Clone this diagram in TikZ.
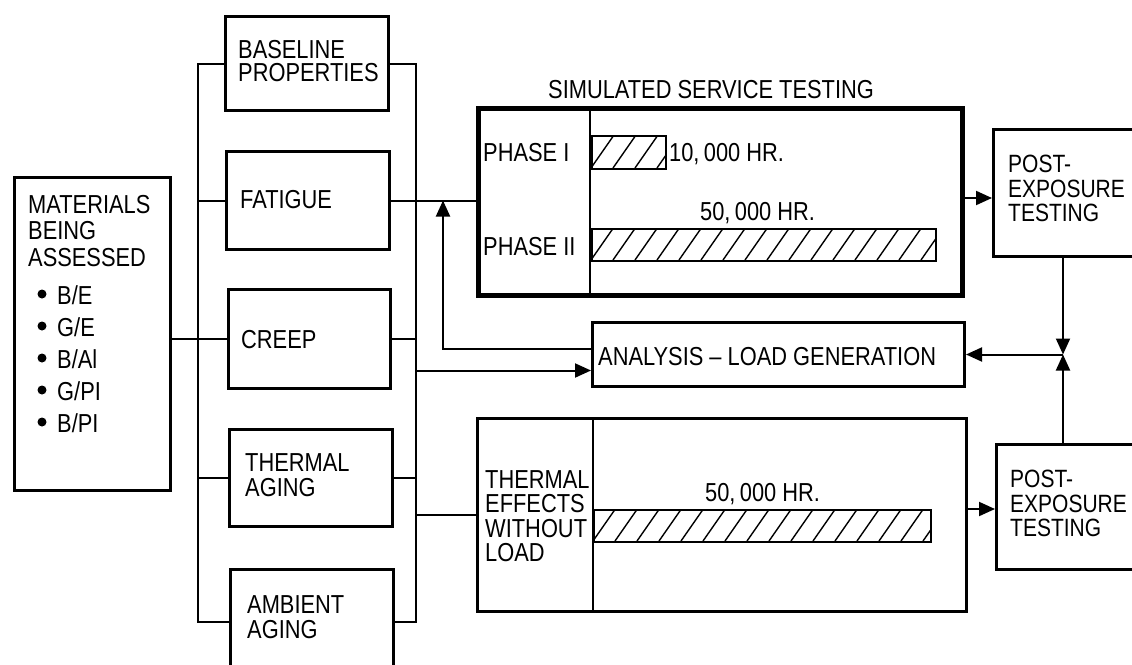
\documentclass[tikz,border=0pt]{standalone}
\usepackage{fontspec}
\setmainfont[FakeStretch=0.84]{Liberation Sans}
\usetikzlibrary{arrows.meta}
\newcommand\myhatch[4]{%
  \begin{scope}
    \clip (#1,#2) rectangle (#3,#4);
    \foreach \i in {-2,...,17}{\draw[line width=1.4pt] ({#1+\i*22},#4) -- ++(23,-33);}
  \end{scope}}
\begin{document}
\begin{tikzpicture}[x=1pt,y=-1pt,
  box/.style={draw, line width=3pt, inner sep=0pt, anchor=north west},
  lbl/.style={anchor=north west, inner sep=0pt, align=left, font=\fontsize{26}{23.5}\selectfont},
  conn/.style={line width=2pt},
  tip/.style={-{Triangle[length=16pt,width=14pt]}},
  dot/.style={fill=black},
]
\path[use as bounding box, fill=white] (0,0) rectangle (1132,664);
\clip (0,0) rectangle (1132,664);

% boxes
\node[box, minimum width=163, minimum height=94] (base) at (224,15) {};
\node[box, minimum width=163, minimum height=98] (fat) at (225,150) {};
\node[box, minimum width=162, minimum height=99] (creep) at (227,288) {};
\node[box, minimum width=163, minimum height=97] (tage) at (228,428) {};
\node[box, minimum width=163, minimum height=104] (amb) at (229,568) {};
\node[box, minimum width=156, minimum height=313] (mat) at (13,176) {};
\node[box, line width=5pt, minimum width=484, minimum height=187] (sim) at (476,106) {};
\node[box, minimum width=372, minimum height=64] (ana) at (591,321) {};
\node[box, minimum width=489, minimum height=193] (teff) at (476,417) {};
\node[box, minimum width=170, minimum height=127] (post1) at (992,128) {};
\node[box, minimum width=170, minimum height=125] (post2) at (995,443) {};

% dividers
\coordinate (sdiv) at (590,0);
\coordinate (tdiv) at (593,0);
\draw[conn] (sim.north -| sdiv) -- (sim.south -| sdiv);
\draw[conn] (teff.north -| tdiv) -- (teff.south -| tdiv);

% bars
\node[box, line width=2pt, minimum width=74, minimum height=33] (bar1) at (591,135) {};
\node[box, line width=2pt, minimum width=344, minimum height=32] (bar2) at (591,228) {};
\node[box, line width=2pt, minimum width=337, minimum height=32] (bar3) at (593,509) {};
\myhatch{591}{135}{665}{168}
\myhatch{591}{228}{935}{260}
\myhatch{593}{509}{930}{541}

% texts
\node[lbl] (tbase) at (238,40) {BASELINE\\PROPERTIES};
\node[lbl] (tfat) at (240,190) {FATIGUE};
\node[lbl] (tcreep) at (241,330) {CREEP};
\node[lbl, font=\fontsize{26}{25}\selectfont] (ttage) at (245,453) {THERMAL\\AGING};
\node[lbl, font=\fontsize{26}{25}\selectfont] (tamb) at (247,595) {AMBIENT\\AGING};
\node[lbl, font=\fontsize{26}{26.5}\selectfont] (tmat) at (28,195) {MATERIALS\\BEING\\ASSESSED};
\node[lbl, font=\fontsize{26}{32}\selectfont] (tlist) at (57,285) {B/E\\G/E\\B/Al\\G/PI\\B/PI};
\foreach \k in {0,...,4}{\fill[dot] (42,{294+32*\k}) circle (4.5);}
\node[lbl] (tsim) at (548,80) {SIMULATED SERVICE TESTING};
\node[lbl] (tp1) at (483,143) {PHASE I};
\node[lbl] (tp2) at (483,237) {PHASE II};
\node[lbl] (t10k) at (669,143) {10,\,000 HR.};
\node[lbl] (t50a) at (700,202) {50,\,000 HR.};
\node[lbl] (t50b) at (705,483) {50,\,000 HR.};
\node[lbl] (tana) at (598,347) {ANALYSIS – LOAD GENERATION};
\node[lbl, font=\fontsize{26}{24.5}\selectfont] (tteff) at (485,470) {THERMAL\\EFFECTS\\WITHOUT\\LOAD};
\node[lbl, font=\fontsize{25}{24.5}\selectfont] (tpost1) at (1008,155) {POST-\\EXPOSURE\\TESTING};
\node[lbl, font=\fontsize{25}{24.5}\selectfont] (tpost2) at (1010,470) {POST-\\EXPOSURE\\TESTING};

% connectors
\coordinate (lbx) at (198,0);
\coordinate (rbx) at (416,0);
\coordinate (fbx) at (443,0);
\coordinate (jx) at (1063,0);
\draw[conn] (base.west) -- (base.west -| lbx) -- (amb.west -| lbx) -- (amb.west);
\draw[conn] (fat.west -| lbx) -- (fat.west);
\draw[conn] (tage.west -| lbx) -- (tage.west);
\draw[conn] (mat.east |- creep.west) -- (creep.west);
\draw[conn] (base.east) -- (base.east -| rbx) -- (amb.east -| rbx) -- (amb.east);
\draw[conn] (creep.east) -- (creep.east -| rbx);
\draw[conn] (tage.east) -- (tage.east -| rbx);
\draw[conn] (fat.east) -- (fat.east -| sim.west);
\coordinate (aIn) at ([yshift=-16pt]ana.west);
\coordinate (aOut) at ([yshift=6pt]ana.west);
\draw[conn,tip] (aIn -| rbx) -- (aIn);
\draw[conn,tip] (aOut) -- (aOut -| fbx) -- (fbx |- fat.east);
\draw[conn] (teff.west -| rbx) -- (teff.west);
\coordinate (sOut) at ([yshift=4pt]sim.east);
\draw[conn,tip] (sOut) -- (sOut -| post1.west);
\coordinate (tOut) at ([yshift=6pt]teff.east);
\draw[conn,tip] (tOut) -- (tOut -| post2.west);
\coordinate (J) at (ana.east -| jx);
\draw[conn,tip] (post1.south -| jx) -- (J);
\draw[conn,tip] (post2.north -| jx) -- (J);
\draw[conn,tip] (J) -- (ana.east);
\end{tikzpicture}
\end{document}
